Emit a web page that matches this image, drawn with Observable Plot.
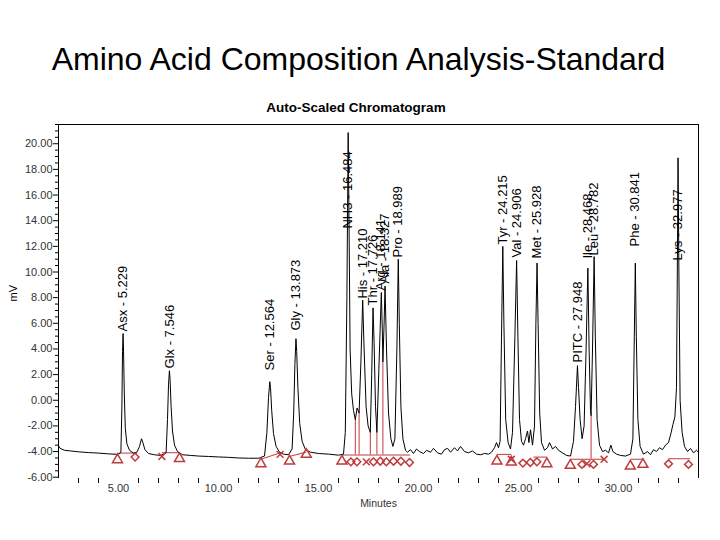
<!DOCTYPE html>
<html><head><meta charset="utf-8">
<script src="https://cdn.jsdelivr.net/npm/d3@7"></script>
<script src="https://cdn.jsdelivr.net/npm/@observablehq/plot@0.6"></script>
<style>
body{margin:0;background:#fff;width:720px;height:540px;overflow:hidden;font-family:"Liberation Sans",Arial,sans-serif;position:relative}
#title{position:absolute;top:39px;left:0;width:717px;text-align:center;font-size:32px;line-height:40px;color:#000;white-space:nowrap}
#sub{position:absolute;top:100px;left:0;width:712px;text-align:center;font-size:13.5px;font-weight:bold;line-height:16px;z-index:2}
#chart{position:absolute;top:90px;left:0}
</style></head>
<body>
<div id="title">Amino Acid Composition Analysis-Standard</div>
<div id="sub">Auto-Scaled Chromatogram</div>
<div id="chart"></div>
<script>
// Axis domains and ticks
const xDomain = [2, 34];
const yDomain = [-6.1, 21.5];
const xMajor = [5, 10, 15, 20, 25, 30];
const xMinor = [3, 4, 6, 7, 8, 9, 11, 12, 13, 14, 16, 17, 18, 19, 21, 22, 23, 24, 26, 27, 28, 29, 31, 32, 33];
const yMajor = [-6, -4, -2, 0, 2, 4, 6, 8, 10, 12, 14, 16, 18, 20];
const yMinor = d3.range(-5.5, 21.6, 0.5).filter(v => Math.abs(v % 2) > 0.01);

// Chromatogram trace (minutes, mV)
const traceTime = [2.00,2.08,2.30,2.60,3.00,3.50,4.00,4.50,5.00,5.12,5.17,5.20,5.229,5.25,5.29,5.34,5.42,5.55,5.75,5.92,6.05,6.15,6.22,6.32,6.50,6.80,7.10,7.38,7.45,7.50,7.546,7.58,7.63,7.70,7.80,7.95,8.20,8.60,9.00,9.50,10.00,10.50,11.00,11.50,12.00,12.30,12.42,12.50,12.564,12.60,12.66,12.75,12.88,13.05,13.25,13.50,13.68,13.76,13.82,13.873,13.91,13.97,14.06,14.18,14.35,14.60,15.00,15.50,16.00,16.25,16.34,16.42,16.484,16.52,16.58,16.66,16.75,16.84,16.93,17.03,17.12,17.21,17.28,17.38,17.48,17.59,17.66,17.726,17.78,17.85,17.92,18.02,18.141,18.19,18.22,18.28,18.327,18.40,18.50,18.62,18.72,18.82,18.92,18.989,19.04,19.12,19.22,19.35,19.45,19.60,19.75,19.90,20.05,20.25,20.40,20.60,20.75,20.95,21.15,21.30,21.45,21.60,21.80,21.95,22.10,22.30,22.50,22.70,22.90,23.10,23.30,23.50,23.65,23.80,23.90,24.00,24.08,24.15,24.215,24.27,24.36,24.48,24.60,24.70,24.82,24.906,24.97,25.05,25.15,25.25,25.35,25.45,25.52,25.60,25.70,25.80,25.87,25.928,25.98,26.06,26.15,26.30,26.45,26.55,26.70,26.85,27.00,27.20,27.40,27.60,27.75,27.85,27.948,28.00,28.08,28.18,28.28,28.38,28.468,28.53,28.60,28.63,28.70,28.782,28.84,28.93,29.05,29.20,29.35,29.50,29.62,29.72,29.90,30.10,30.35,30.60,30.72,30.79,30.841,30.89,30.97,31.08,31.25,31.45,31.60,31.75,31.90,32.05,32.20,32.35,32.50,32.62,32.72,32.82,32.90,32.95,32.977,33.02,33.08,33.18,33.30,33.45,33.60,33.75,33.90,34.00];
const traceSignal = [-3.55,-3.75,-3.90,-3.95,-4.02,-4.08,-4.12,-4.18,-4.22,-4.05,-0.5,3.8,5.2,4.0,0.5,-2.2,-3.4,-3.9,-4.12,-4.05,-3.6,-3.0,-3.3,-3.85,-4.15,-4.25,-4.3,-4.1,-1.5,1.2,2.3,1.6,-0.5,-2.4,-3.5,-4.0,-4.25,-4.3,-4.35,-4.38,-4.42,-4.45,-4.5,-4.52,-4.52,-4.35,-2.5,0.2,1.45,1.0,-0.8,-2.6,-3.6,-4.05,-4.2,-4.25,-3.8,-1.0,2.8,4.8,3.8,1.0,-1.8,-3.2,-3.85,-4.05,-4.15,-4.2,-4.28,-4.2,-2.5,8.0,20.87,15.0,4.0,0.5,-0.8,-1.5,-0.6,-1.0,3.0,7.8,4.0,-0.5,-2.0,-2.5,2.0,7.2,4.5,-0.5,-2.5,2.5,8.4,5.5,3.0,6.0,8.9,4.0,-1.0,-3.0,-3.6,-3.0,4.0,11.0,6.0,-0.5,-3.0,-3.9,-4.05,-3.85,-4.15,-3.8,-4.0,-4.15,-3.9,-4.05,-3.75,-4.1,-4.2,-3.85,-3.75,-4.05,-3.7,-3.95,-3.6,-4.0,-4.1,-3.95,-4.2,-4.25,-4.15,-4.2,-4.05,-3.7,-3.3,-3.7,-3.2,5.0,12.0,6.0,-1.5,-3.3,-3.8,-2.5,5.0,10.9,5.0,-1.5,-3.2,-3.5,-3.0,-2.4,-3.3,-2.3,-3.5,-2.0,6.0,10.7,6.0,-1.0,-3.3,-3.9,-3.7,-3.3,-3.8,-3.6,-3.9,-4.1,-4.3,-4.35,-3.2,-0.5,2.7,1.0,-1.5,-3.0,-2.0,4.0,10.3,4.0,-0.8,-1.2,4.0,11.2,5.0,-1.5,-3.5,-4.0,-3.9,-4.1,-3.5,-4.0,-4.2,-4.3,-4.35,-4.2,-3.0,5.0,10.7,5.0,-1.5,-3.6,-4.2,-4.0,-4.25,-3.85,-4.0,-3.7,-3.85,-3.5,-3.3,-2.6,-1.9,-1.3,1.0,12.0,18.9,10.0,0.0,-2.5,-3.6,-4.0,-3.75,-4.1,-3.9,-4.05];

// Peak labels
const peakNames = ["Asx - 5.229","Glx - 7.546","Ser - 12.564","Gly - 13.873","NH3 - 16.484","His - 17.210","Thr - 17.726","Arg - 18.141","Ala - 18.327","Pro - 18.989","Tyr - 24.215","Val - 24.906","Met - 25.928","PITC - 27.948","Ile - 28.468","Leu - 28.782","Phe - 30.841","Lys - 32.977"];
const peakTimes = [5.229,7.546,12.564,13.873,16.484,17.210,17.726,18.141,18.327,18.989,24.215,24.906,25.928,27.948,28.468,28.782,30.841,32.977];
const labelLevels = [5.36,2.48,2.33,5.44,13.39,7.93,7.39,8.56,9.1,11.13,12.14,11.13,11.05,2.95,11.05,11.28,11.99,10.9];

// Integration baselines (start/end time and level)
const baseStartT = [4.95,7.17,12.12,13.55,16.17,23.92,25.75,27.59,30.59,32.5];
const baseEndT   = [5.92,8.05,13.08,14.39,19.58,24.64,26.42,29.28,31.22,33.58];
const baseStartV = [-4.12,-4.09,-4.6,-4.38,-4.27,-4.22,-4.43,-4.6,-4.6,-4.56];
const baseEndV   = [-4.12,-4.09,-4.1,-4.04,-4.27,-4.22,-4.43,-4.6,-4.6,-4.56];
// Perpendicular drop lines
const dropT   = [16.84,17.03,17.59,17.92,18.22,28.63];
const dropTop = [-1.5,-1.0,-2.5,-2.5,3.0,-1.2];
const dropBase= [-4.27,-4.27,-4.27,-4.27,-4.27,-4.6];
// Peak start/end markers
const triT = [4.95,8.05,12.12,13.55,14.39,16.17,23.92,24.64,26.42,27.59,30.59,31.22];
const triV = [-4.64,-4.56,-4.95,-4.75,-4.22,-4.75,-4.75,-4.82,-4.95,-5.08,-5.14,-5.0];
const diaT = [5.83,16.62,16.92,17.75,18.09,18.39,18.75,19.12,19.55,25.22,25.59,25.92,28.17,28.75,32.5,33.5];
const diaV = [-4.43,-4.8,-4.8,-4.8,-4.75,-4.8,-4.75,-4.75,-4.85,-4.9,-4.85,-4.8,-5.0,-5.0,-4.95,-5.0];
const crossT = [7.17,13.08,17.39,24.64,28.42,29.28];
const crossV = [-4.38,-4.22,-4.8,-4.6,-4.95,-4.6];

const red = "#c03a3a";
const trace = traceTime.map((t, i) => ({t, v: traceSignal[i]}));
const idx = a => a.map((_, i) => i);

const chart = Plot.plot({
  width: 720, height: 450,
  marginLeft: 58, marginRight: 22, marginTop: 34, marginBottom: 62,
  x: {domain: xDomain},
  y: {domain: yDomain},
  style: {fontFamily: '"Liberation Sans", Arial, sans-serif', fontSize: "11px", background: "transparent", overflow: "visible"},
  marks: [
    Plot.axisY(yMinor, {tickSize: 3, tickFormat: () => "", label: null}),
    Plot.axisY(yMajor, {tickSize: 5, tickPadding: 1, tickFormat: d => d.toFixed(2), label: null, fill: "#333"}),
    Plot.axisX(xMinor, {tickSize: 5, tickFormat: () => "", label: null}),
    Plot.axisX(xMajor, {tickSize: 0, tickPadding: 6, tickFormat: d => d.toFixed(2), label: null, fill: "#333"}),
    Plot.ruleX(xDomain, {stroke: "#000"}),
    Plot.ruleY([yDomain[1]], {stroke: "#000"}),
    Plot.link(idx(baseStartT), {x1: i => baseStartT[i], y1: i => baseStartV[i], x2: i => baseEndT[i], y2: i => baseEndV[i], stroke: red}),
    Plot.ruleX(idx(dropT), {x: i => dropT[i], y1: i => dropBase[i], y2: i => dropTop[i], stroke: red}),
    Plot.line(trace, {x: "t", y: "v", stroke: "#000", strokeWidth: 1}),
    Plot.dot(idx(triT), {x: i => triT[i], y: i => triV[i], symbol: "triangle", r: 3.7, stroke: red, fill: "none"}),
    Plot.dot(idx(diaT), {x: i => diaT[i], y: i => diaV[i], symbol: "diamond2", r: 3.5, stroke: red, fill: "none"}),
    Plot.dot(idx(crossT), {x: i => crossT[i], y: i => crossV[i], symbol: "times", r: 3.2, stroke: red, fill: "none"}),
    Plot.text(idx(peakNames), {x: i => peakTimes[i], y: i => labelLevels[i], text: i => peakNames[i], rotate: -90, textAnchor: "start", fontSize: 13, fill: "#000"}),
    Plot.text(["mV"], {text: d => d, frameAnchor: "left", dx: -45, rotate: -90, fontSize: 11}),
    Plot.text(["Minutes"], {text: d => d, frameAnchor: "bottom", dy: 28, fontSize: 10.5, fill: "#333"})
  ]
});
document.getElementById("chart").appendChild(chart);
</script>
</body></html>
